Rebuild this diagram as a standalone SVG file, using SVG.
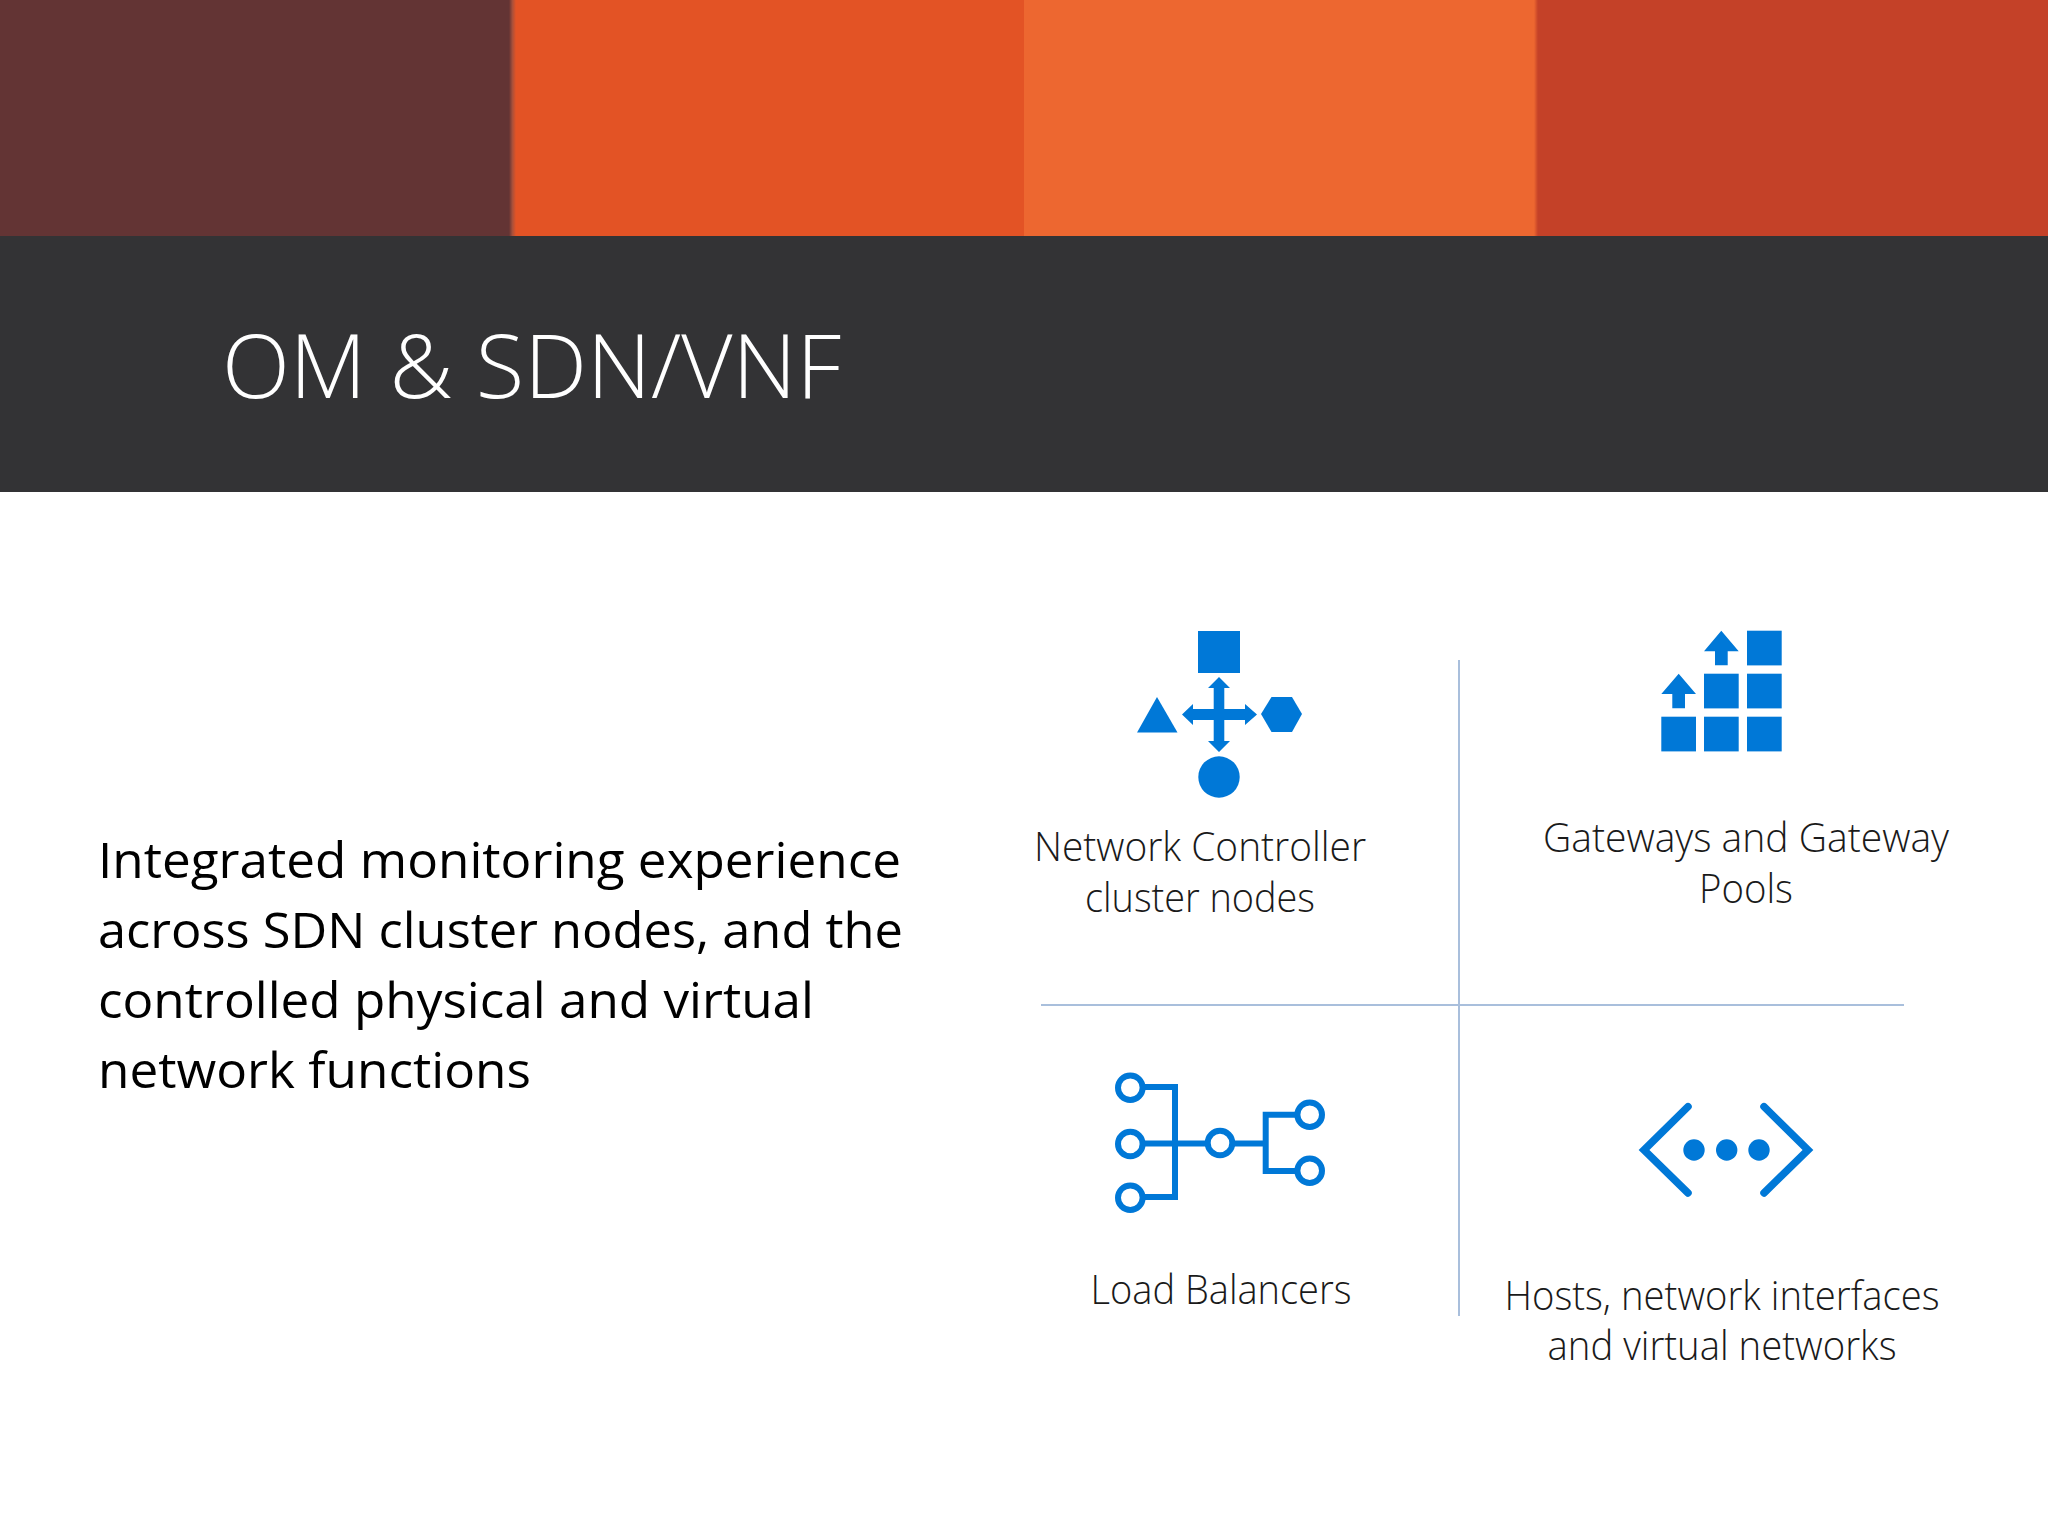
<svg xmlns="http://www.w3.org/2000/svg" width="2048" height="1536" viewBox="0 0 2048 1536">
<defs>
<linearGradient id="seam1"><stop offset="0" stop-color="#633434"/><stop offset="0.5" stop-color="#a9503a"/><stop offset="1" stop-color="#e35325"/></linearGradient>
<linearGradient id="seam2"><stop offset="0" stop-color="#ed6730"/><stop offset="1" stop-color="#c44128"/></linearGradient>
</defs>
<style>
.i{fill:#0078d7}
.o{fill:none;stroke:#0078d7;stroke-width:6}
.c{fill:#fff;stroke:#0078d7;stroke-width:6}
.l{stroke:#a9bfdc;stroke-width:2;fill:none}
.t{font-family:"Open Sans","Noto Sans",sans-serif;font-weight:300;font-size:40px;fill:#1a1a1a;text-anchor:middle}
.b{font-family:"Open Sans","Noto Sans",sans-serif;font-size:50px;fill:#000}
</style>
<rect width="2048" height="1536" fill="#fff"/>
<g id="header">
<rect x="0" y="0" width="512" height="236" fill="#633434"/>
<rect x="512" y="0" width="512" height="236" fill="#e35325"/>
<rect x="1024" y="0" width="512" height="236" fill="#ed6730"/>
<rect x="1536" y="0" width="512" height="236" fill="#c44128"/>
<rect x="509" y="0" width="7" height="236" fill="url(#seam1)"/>
<rect x="1534" y="0" width="4" height="236" fill="url(#seam2)"/>
<rect x="0" y="236" width="2048" height="256" fill="#333335"/>
<text x="222" y="398" font-family="'Open Sans','Noto Sans',sans-serif" font-weight="300" font-size="88" fill="#fff" textLength="619" lengthAdjust="spacingAndGlyphs">OM &amp; SDN/VNF</text>
</g>
<g id="body-text" class="b">
<text x="98" y="878" textLength="803" lengthAdjust="spacingAndGlyphs">Integrated monitoring experience</text>
<text x="98" y="948" textLength="805" lengthAdjust="spacingAndGlyphs">across SDN cluster nodes, and the</text>
<text x="98" y="1018" textLength="716" lengthAdjust="spacingAndGlyphs">controlled physical and virtual</text>
<text x="98" y="1088" textLength="433" lengthAdjust="spacingAndGlyphs">network functions</text>
</g>
<g id="connectors">
<line class="l" x1="1459" y1="660" x2="1459" y2="1316"/>
<line class="l" x1="1041" y1="1005" x2="1904" y2="1005"/>
</g>
<g id="network-controller">
<rect class="i" x="1198" y="631" width="42" height="42"/>
<polygon class="i" points="1157,697 1177.500,732.500 1137,732.500"/>
<polygon class="i" points="1261,714 1271.500,697 1292,697 1302,714 1292,732 1271.500,732"/>
<circle class="i" cx="1219" cy="777" r="20.700"/>
<polygon class="i" points="1219,677 1230,688 1224.300,688 1224.300,709 1245,709 1245,704 1257,714.500 1245,725 1245,720 1224.300,720 1224.300,741 1230,741 1219,752 1208,741 1213.700,741 1213.700,720 1193,720 1193,725 1182,714.500 1193,704 1193,709 1213.700,709 1213.700,688 1208,688"/>
<text class="t" x="1200" y="861" textLength="332" lengthAdjust="spacingAndGlyphs">Network Controller</text>
<text class="t" x="1200" y="912" textLength="230" lengthAdjust="spacingAndGlyphs">cluster nodes</text>
</g>
<g id="gateways">
<rect class="i" x="1661.300" y="716.700" width="34.700" height="34.700"/>
<rect class="i" x="1704" y="716.700" width="34.700" height="34.700"/>
<rect class="i" x="1747" y="716.700" width="34.700" height="34.700"/>
<rect class="i" x="1704" y="673.700" width="34.700" height="34.700"/>
<rect class="i" x="1747" y="673.700" width="34.700" height="34.700"/>
<rect class="i" x="1747" y="630.700" width="34.700" height="34.700"/>
<polygon class="i" points="1721.300,630.700 1738.700,651.300 1727.700,651.300 1727.700,665.300 1715,665.300 1715,651.300 1704,651.300"/>
<polygon class="i" points="1678.700,673.700 1696,694 1685,694 1685,708.300 1672.300,708.300 1672.300,694 1661.300,694"/>
<text class="t" x="1746" y="852" textLength="406" lengthAdjust="spacingAndGlyphs">Gateways and Gateway</text>
<text class="t" x="1746" y="903" textLength="94" lengthAdjust="spacingAndGlyphs">Pools</text>
</g>
<g id="load-balancers">
<path class="o" d="M1140 1087H1175V1197H1140M1140 1143.500H1210M1230 1143.500H1265.700M1300 1114.700H1265.700V1171H1300"/>
<circle class="c" cx="1130.300" cy="1087.700" r="12.300"/>
<circle class="c" cx="1130.300" cy="1144" r="12.300"/>
<circle class="c" cx="1130.300" cy="1197.700" r="12.300"/>
<circle class="c" cx="1220" cy="1143" r="12.300"/>
<circle class="c" cx="1309.700" cy="1114.700" r="12.300"/>
<circle class="c" cx="1309.700" cy="1170.700" r="12.300"/>
<text class="t" x="1221" y="1304" textLength="261" lengthAdjust="spacingAndGlyphs">Load Balancers</text>
</g>
<g id="hosts">
<path d="M1688 1106.700L1644 1150L1688 1193M1764 1106.700L1808 1150L1764 1193" fill="none" stroke="#0078d7" stroke-width="7.500" stroke-linecap="round"/>
<circle class="i" cx="1694" cy="1150" r="10.700"/>
<circle class="i" cx="1726.700" cy="1150" r="10.700"/>
<circle class="i" cx="1759" cy="1150" r="10.700"/>
<text class="t" x="1722" y="1310" textLength="435" lengthAdjust="spacingAndGlyphs">Hosts, network interfaces</text>
<text class="t" x="1722" y="1360" textLength="349" lengthAdjust="spacingAndGlyphs">and virtual networks</text>
</g>
</svg>
